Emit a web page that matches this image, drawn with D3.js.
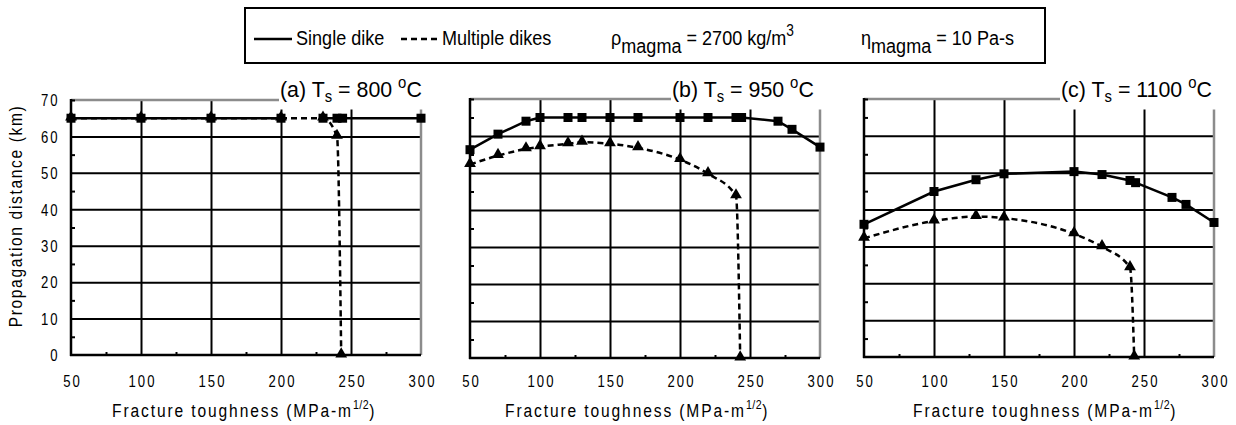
<!DOCTYPE html>
<html>
<head>
<meta charset="utf-8">
<script src="https://cdn.jsdelivr.net/npm/d3@7"></script>
<style>
  html, body { margin: 0; padding: 0; background: #fff; }
  svg { display: block; }
</style>
</head>
<body>
<svg id="chart" width="1236" height="425"></svg>
<script>
// ---------------- DATA ----------------
const xTicks = [50, 100, 150, 200, 250, 300];
const xGrid = [100, 150, 200, 250];
const xMinor = [75, 125, 175, 225, 275];
const yTicks = [0, 10, 20, 30, 40, 50, 60, 70];
const yGrid = [10, 20, 30, 40, 50, 60];
const yMinor = [5, 15, 25, 35, 45, 55, 65];

const panelLetters = ["(a)", "(b)", "(c)"];
const panelTemps = ["800", "950", "1100"];

const seriesNames = ["Single dike", "Multiple dikes"];
const rhoText = "= 2700 kg/m";
const etaText = "= 10 Pa-s";
const yTitle = "Propagation distance (km)";
const xTitle = "Fracture toughness (MPa-m";

// Panel (a) Ts = 800 C  (null = gap in the solid line)
const singleA_x = [50, 100, 150, 200, 220, 230, 240, 244, 300];
const singleA_y = [65, 65, 65, 65, null, 65, 65, 65, 65];
const multiA_x  = [50, 100, 150, 200, 230, 240, 243];
const multiA_y  = [65, 65, 65, 65, 65, 60, 0];

// Panel (b) Ts = 950 C
const singleB_x = [50, 70, 90, 100, 120, 130, 150, 170, 200, 220, 240, 244, 270, 280, 300];
const singleB_y = [56.3, 60.5, 64, 65, 65, 65, 65, 65, 65, 65, 65, 65, 64, 61.8, 57];
const multiB_x  = [50, 70, 90, 100, 120, 130, 150, 170, 200, 220, 240, 243];
const multiB_y  = [52.3, 54.7, 56.5, 57.1, 57.9, 58.3, 57.9, 56.8, 53.6, 49.8, 43.8, 0];

// Panel (c) Ts = 1100 C
const singleC_x = [50, 100, 130, 150, 200, 220, 240, 244, 270, 280, 300];
const singleC_y = [36, 44.9, 48.1, 49.7, 50.3, 49.5, 47.9, 47.3, 43.3, 41.4, 36.5];
const multiC_x  = [50, 100, 130, 150, 200, 220, 240, 243];
const multiC_y  = [32.2, 36.9, 38.1, 37.7, 33.4, 29.9, 24.2, 0];

// ---------------- LAYOUT ----------------
const FONT = "'Liberation Sans', Arial, sans-serif";
const NARROW = 0.82;
const svg = d3.select("#chart");

const panels = [
  { left: 71,  top: 100, bottom: 355, titleX: 280,  sx: singleA_x, sy: singleA_y, mx: multiA_x, my: multiA_y, yLabels: true },
  { left: 470, top: 99,  bottom: 358, titleX: 672,  sx: singleB_x, sy: singleB_y, mx: multiB_x, my: multiB_y, yLabels: false },
  { left: 864, top: 99,  bottom: 357, titleX: 1061, sx: singleC_x, sy: singleC_y, mx: multiC_x, my: multiC_y, yLabels: false }
];
const W = 350;
const xTitleStart = [112, 505, 913];

const tri = d3.symbol().type(d3.symbolTriangle).size(60);

// narrow text helper: returns a text element inside a horizontally compressed group
function narrowText(parent, x, y, sx, size) {
  return parent.append("g").attr("transform", `translate(${x},${y}) scale(${sx},1)`)
    .append("text").attr("x", 0).attr("y", 0)
    .attr("font-family", FONT).attr("font-size", size).attr("fill", "#000");
}

panels.forEach((p, i) => {
  const x = d3.scaleLinear().domain([50, 300]).range([p.left, p.left + W]);
  const y = d3.scaleLinear().domain([0, 70]).range([p.bottom, p.top]);
  const g = svg.append("g");

  // horizontal gridlines
  g.append("g").attr("transform", `translate(${p.left},0)`)
    .call(d3.axisLeft(y).tickValues(yGrid).tickSize(-W).tickFormat(""))
    .call(s => s.select(".domain").remove())
    .selectAll("line").attr("stroke", "#000").attr("stroke-width", 2);

  // vertical gridlines
  g.append("g").attr("transform", `translate(0,${p.bottom})`)
    .call(d3.axisBottom(x).tickValues(xGrid).tickSize(-(p.bottom - p.top)).tickFormat(""))
    .call(s => s.select(".domain").remove())
    .selectAll("line").attr("stroke", "#000").attr("stroke-width", 2);

  // gray top / right border
  g.append("line").attr("x1", x(50)).attr("x2", x(300)).attr("y1", y(70)).attr("y2", y(70))
    .attr("stroke", "#8c8c8c").attr("stroke-width", 2.5);
  g.append("line").attr("x1", x(300)).attr("x2", x(300)).attr("y1", y(0)).attr("y2", y(70))
    .attr("stroke", "#8c8c8c").attr("stroke-width", 2.5);

  // minor ticks
  g.append("g").attr("transform", `translate(0,${p.bottom})`)
    .call(d3.axisBottom(x).tickValues(xMinor).tickSize(-3).tickFormat(""))
    .call(s => s.select(".domain").remove())
    .selectAll("line").attr("stroke", "#000").attr("stroke-width", 2);
  g.append("g").attr("transform", `translate(${p.left},0)`)
    .call(d3.axisLeft(y).tickValues(yMinor.concat([70])).tickSize(-4).tickFormat(""))
    .call(s => s.select(".domain").remove())
    .selectAll("line").attr("stroke", "#000").attr("stroke-width", 2);

  // axes lines
  g.append("line").attr("x1", x(50)).attr("x2", x(50)).attr("y1", y(0) + 1).attr("y2", y(70) - 1)
    .attr("stroke", "#000").attr("stroke-width", 2.5);
  g.append("line").attr("x1", x(50) - 1).attr("x2", x(300)).attr("y1", y(0)).attr("y2", y(0))
    .attr("stroke", "#000").attr("stroke-width", 2.5);

  // x tick labels
  const xa = g.append("g").attr("transform", `translate(0,${p.bottom})`)
    .call(d3.axisBottom(x).tickValues(xTicks).tickSize(0).tickPadding(0));
  xa.select(".domain").remove();
  xa.selectAll("text").attr("font-family", FONT).attr("font-size", 16).attr("fill", "#000")
    .attr("letter-spacing", 2.6).attr("dx", 1.3).attr("dy", 0).attr("y", 387 - p.bottom)
    .attr("transform", `scale(${NARROW},1)`);

  // y tick labels
  if (p.yLabels) {
    const ya = g.append("g").attr("transform", `translate(${p.left},0)`)
      .call(d3.axisLeft(y).tickValues(yTicks).tickSize(0).tickPadding(0));
    ya.select(".domain").remove();
    ya.selectAll("text").attr("font-family", FONT).attr("font-size", 16).attr("fill", "#000")
      .attr("letter-spacing", 2.4).attr("x", -13.5 / NARROW).attr("dx", 2.4).attr("dy", "0.36em")
      .attr("transform", `scale(${NARROW},1)`);

    svg.append("g").attr("transform", `translate(22,216) rotate(-90) scale(${NARROW},1)`)
      .append("text")
      .attr("text-anchor", "middle")
      .attr("font-family", FONT).attr("font-size", 19).attr("letter-spacing", 2.0)
      .text(yTitle);
  }

  // x-axis title
  const xt = narrowText(svg, xTitleStart[i], 417, NARROW, 19).attr("letter-spacing", 2.3);
  xt.append("tspan").text(xTitle);
  xt.append("tspan").attr("font-size", 13).attr("dy", -8).attr("letter-spacing", 0.6).text("1/2");
  xt.append("tspan").attr("dy", 8).text(")");

  // panel title with white background
  g.append("rect").attr("x", p.titleX - 1).attr("y", 72)
    .attr("width", p.left + W + 8 - p.titleX).attr("height", 109.5 - 72).attr("fill", "#fff");
  const tt = narrowText(g, p.titleX, 97, 0.93, 23);
  tt.append("tspan").text(panelLetters[i] + " T");
  tt.append("tspan").attr("font-size", 16).attr("dy", 5).text("s");
  tt.append("tspan").attr("dy", -5).text(" = " + panelTemps[i] + " ");
  tt.append("tspan").attr("font-size", 16).attr("dy", -9).text("o");
  tt.append("tspan").attr("dy", 9).text("C");

  // data: multiple dikes (dashed, smoothed, triangles)
  const mData = p.mx.map((v, k) => [v, p.my[k]]);
  g.append("path").datum(mData)
    .attr("d", d3.line().x(d => x(d[0])).y(d => y(d[1])).curve(d3.curveMonotoneX))
    .attr("fill", "none").attr("stroke", "#000").attr("stroke-width", 2.5)
    .attr("stroke-dasharray", "6,4");
  g.selectAll(".tri").data(mData).enter().append("path")
    .attr("d", tri).attr("transform", d => `translate(${x(d[0])},${y(d[1]) - 1})`)
    .attr("fill", "#000");

  // data: single dike (solid, squares)
  const sData = p.sx.map((v, k) => [v, p.sy[k]]);
  g.append("path").datum(sData)
    .attr("d", d3.line().defined(d => d[1] !== null).x(d => x(d[0])).y(d => y(d[1])))
    .attr("fill", "none").attr("stroke", "#000").attr("stroke-width", 2.5);
  g.selectAll(".sq").data(sData.filter(d => d[1] !== null)).enter().append("rect")
    .attr("x", d => x(d[0]) - 4.5).attr("y", d => y(d[1]) - 4.5)
    .attr("width", 9).attr("height", 9).attr("fill", "#000");
});

// ---------------- LEGEND ----------------
const LS = 0.86;
const lg = svg.append("g");
lg.append("rect").attr("x", 245).attr("y", 8).attr("width", 800).attr("height", 55)
  .attr("fill", "#fff").attr("stroke", "#000").attr("stroke-width", 2);
lg.append("line").attr("x1", 254).attr("x2", 292).attr("y1", 39).attr("y2", 39)
  .attr("stroke", "#000").attr("stroke-width", 2.5);
narrowText(lg, 296, 45, LS, 21).text(seriesNames[0]);
lg.append("line").attr("x1", 401).attr("x2", 439).attr("y1", 39).attr("y2", 39)
  .attr("stroke", "#000").attr("stroke-width", 2.5).attr("stroke-dasharray", "6,4");
narrowText(lg, 442, 45, LS, 21).text(seriesNames[1]);

const rho = narrowText(lg, 611, 45, LS, 21);
rho.append("tspan").text("ρ");
rho.append("tspan").attr("dy", 8).text("magma");
rho.append("tspan").attr("dy", -8).text(" " + rhoText);
rho.append("tspan").attr("font-size", 16).attr("dy", -9).text("3");

const eta = narrowText(lg, 861, 45, LS, 21);
eta.append("tspan").text("η");
eta.append("tspan").attr("dy", 8).text("magma");
eta.append("tspan").attr("dy", -8).text(" " + etaText);
</script>
</body>
</html>
